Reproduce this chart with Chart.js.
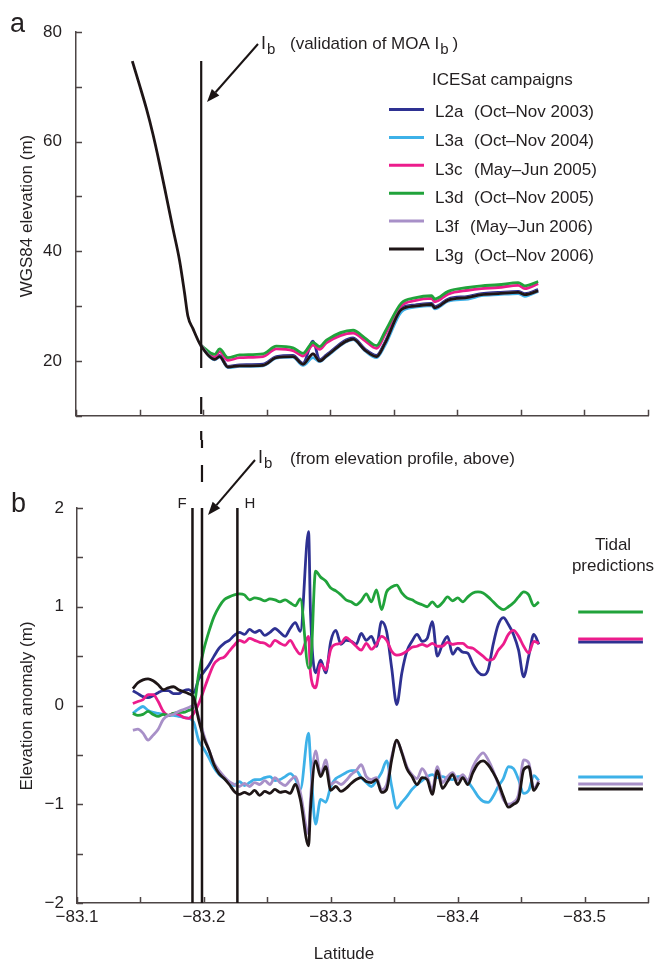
<!DOCTYPE html>
<html><head><meta charset="utf-8">
<script src="https://cdn.jsdelivr.net/npm/chart.js@4.4.0/dist/chart.umd.min.js"></script>
<style>
html,body{margin:0;padding:0;background:#fff;width:657px;height:962px;overflow:hidden;}
canvas{position:absolute;left:0;display:block;}
#ca{top:0;}
#cb{top:440px;}
</style></head><body>
<canvas id="ca" width="657" height="440"></canvas>
<canvas id="cb" width="657" height="522"></canvas>
<script>
// ---------- series metadata ----------
const seriesNames   = ['L2a','L3a','L3c','L3d','L3f','L3g'];
const seriesPeriods = ['(Oct\u2013Nov 2003)','(Oct\u2013Nov 2004)','(May\u2013Jun 2005)','(Oct\u2013Nov 2005)','(May\u2013Jun 2006)','(Oct\u2013Nov 2006)'];
const seriesColors  = ['#2e3192','#3db1e8','#ec1c8c','#21a33b','#a890c8','#1e1516'];
const seriesOrder   = [5,4,3,2,1,0];

// ---------- panel a: WGS84 elevation (m) ----------
const latTop = [-83.1443,-83.15,-83.1553,-83.1605,-83.1657,-83.171,-83.1762,-83.1815,-83.1854,-83.188,-83.192,-83.198,
  -83.2091,-83.213,-83.2195,-83.2287,-83.2471,-83.2576,-83.2707,-83.2786,-83.2865,-83.2917,-83.297,-83.318,-83.3272,
  -83.3364,-83.343,-83.3561,-83.3665,-83.3797,-83.3823,-83.3928,-83.4085,-83.419,-83.4321,-83.4479,-83.4531,-83.4636];
const N11 = [null,null,null,null,null,null,null,null,null,null,null];
const elevL2a = N11.concat([22.9,20.4,21.0,19.0,19.3,19.4,20.8,21.0,19.6,23.6,20.2,21.1,24.2,22.2,21.0,23.4,29.6,30.2,30.5,29.9,31.3,31.8,32.3,32.5,32.7,32.3,33.0]);
const elevL3a = N11.concat([22.9,20.2,20.7,18.8,19.0,19.1,20.5,20.7,19.2,20.6,19.9,20.8,23.9,21.9,20.6,22.8,29.0,29.8,30.1,29.5,30.9,31.3,31.9,32.1,32.3,31.8,32.7]);
const elevL3c = N11.concat([22.9,20.7,21.7,20.1,20.6,20.8,22.2,21.9,20.9,22.9,22.1,23.3,25.1,23.7,22.3,24.8,30.1,31.0,31.4,30.8,32.2,32.9,33.2,33.4,33.8,33.2,34.1]);
const elevL3d = N11.concat([22.9,21.2,22.2,20.6,21.1,21.3,22.7,22.4,21.4,23.4,22.6,23.8,25.6,24.2,22.8,25.3,30.6,31.5,31.9,31.3,32.7,33.4,33.7,33.9,34.3,33.7,34.5]);
const elevL3f = N11.concat([22.9,20.3,20.8,18.9,19.1,19.2,20.6,20.8,19.4,21.3,20.0,20.9,24.0,22.0,20.8,23.2,29.4,30.0,30.3,29.7,31.1,31.6,32.1,32.3,32.5,32.1,32.8]);
const elevL3g = [74.7,70.3,66.1,61.4,56.0,50.1,44.2,38.3,32.4,28.2,25.9,22.9,
  20.3,20.8,18.9,19.1,19.2,20.6,20.8,19.4,21.3,20.0,20.9,24.0,22.0,20.8,23.2,29.4,30.0,30.3,29.7,31.1,31.6,32.1,32.3,32.5,32.1,32.8];
const elevSeries = [elevL2a, elevL3a, elevL3c, elevL3d, elevL3f, elevL3g];
const ibLat = -83.1985;
const ibTopRange = [18.7, 74.7];

// ---------- panel b: elevation anomaly (m) ----------
const latBot = [-83.144,-83.148,-83.152,-83.156,-83.160,-83.164,-83.168,-83.172,-83.176,-83.180,
  -83.184,-83.188,-83.192,-83.196,-83.200,-83.204,-83.208,-83.212,-83.216,-83.220,
  -83.224,-83.228,-83.232,-83.236,-83.240,-83.244,-83.248,-83.252,-83.256,-83.260,
  -83.264,-83.268,-83.272,-83.276,-83.2825,-83.284,-83.288,-83.292,-83.296,-83.300,
  -83.304,-83.308,-83.312,-83.316,-83.320,-83.324,-83.328,-83.332,-83.336,-83.340,
  -83.344,-83.348,-83.352,-83.356,-83.360,-83.364,-83.368,-83.372,-83.376,-83.380,
  -83.384,-83.388,-83.392,-83.396,-83.400,-83.404,-83.408,-83.412,-83.416,-83.420,
  -83.424,-83.428,-83.432,-83.436,-83.440,-83.444,-83.448,-83.452,-83.456,-83.460,
  -83.464];
const anomL2a = [0.15,0.12,0.09,0.08,0.10,0.13,0.15,0.15,0.12,0.12,
  0.15,0.16,0.13,0.27,0.34,0.41,0.50,0.58,0.63,0.66,
  0.71,0.74,0.72,0.77,0.74,0.76,0.71,0.74,0.78,0.74,
  0.70,0.78,0.84,0.75,1.76,0.95,0.33,0.46,0.33,0.65,
  0.76,0.62,0.66,0.65,0.62,0.73,0.66,0.70,0.60,0.85,
  0.75,0.38,0.01,0.33,0.55,0.65,0.72,0.65,0.68,0.85,
  0.50,0.62,0.70,0.52,0.58,0.54,0.53,0.42,0.34,0.31,
  0.36,0.62,0.82,0.89,0.82,0.72,0.56,0.29,0.50,0.72,
  0.62];
const anomL3a = [-0.08,-0.04,-0.01,-0.05,-0.07,-0.08,-0.09,-0.10,-0.10,-0.11,
  -0.12,-0.13,-0.17,-0.36,-0.44,-0.53,-0.63,-0.70,-0.74,-0.78,
  -0.81,-0.77,-0.81,-0.78,-0.75,-0.75,-0.73,-0.72,-0.76,-0.75,
  -0.72,-0.69,-0.74,-0.85,-0.28,-0.55,-1.20,-0.95,-0.98,-0.82,
  -0.74,-0.71,-0.68,-0.66,-0.66,-0.73,-0.78,-0.82,-0.76,-0.68,
  -0.56,-0.82,-1.04,-0.98,-0.92,-0.85,-0.80,-0.76,-0.72,-0.70,
  -0.73,-0.72,-0.74,-0.75,-0.72,-0.72,-0.77,-0.84,-0.92,-0.97,
  -0.98,-0.92,-0.82,-0.74,-0.62,-0.64,-0.75,-0.89,-0.86,-0.71,
  -0.76];
const anomL3c = [0.02,0.04,0.06,0.11,0.11,0.04,-0.06,-0.10,-0.08,-0.09,
  -0.12,-0.13,-0.08,0.02,0.16,0.30,0.42,0.47,0.49,0.55,
  0.61,0.66,0.64,0.68,0.66,0.64,0.63,0.60,0.66,0.63,
  0.61,0.66,0.58,0.52,0.70,0.33,0.18,0.42,0.36,0.57,
  0.62,0.63,0.69,0.65,0.60,0.56,0.63,0.57,0.62,0.70,
  0.66,0.55,0.51,0.52,0.55,0.59,0.60,0.62,0.60,0.63,
  0.60,0.60,0.64,0.62,0.63,0.63,0.59,0.58,0.54,0.50,
  0.46,0.47,0.56,0.62,0.72,0.76,0.70,0.60,0.53,0.65,
  0.63];
const anomL3d = [-0.08,-0.10,-0.09,-0.06,-0.09,-0.11,-0.09,-0.10,-0.08,-0.07,
  -0.07,-0.05,-0.01,0.33,0.57,0.75,0.90,1.00,1.07,1.10,
  1.12,1.13,1.12,1.07,1.09,1.08,1.06,1.08,1.07,1.05,
  1.07,1.04,1.01,1.08,0.38,0.40,1.36,1.30,1.26,1.19,
  1.16,1.12,1.07,1.05,1.02,1.06,1.13,1.05,1.17,0.97,
  1.15,1.20,1.22,1.14,1.09,1.07,1.04,1.02,1.00,1.05,
  1.00,1.04,1.10,1.06,1.09,1.05,1.10,1.14,1.15,1.14,
  1.10,1.05,1.00,0.97,1.00,1.04,1.10,1.15,1.12,1.01,
  1.05];
const anomL3f = [-0.25,-0.24,-0.28,-0.35,-0.30,-0.24,-0.14,-0.10,-0.09,-0.06,
  -0.04,-0.02,0.00,-0.12,-0.30,-0.45,-0.58,-0.66,-0.72,-0.77,
  -0.80,-0.82,-0.79,-0.82,-0.78,-0.80,-0.76,-0.80,-0.73,-0.78,
  -0.81,-0.76,-0.72,-0.88,-1.30,-0.95,-0.46,-0.70,-0.55,-0.80,
  -0.77,-0.80,-0.76,-0.70,-0.66,-0.60,-0.72,-0.75,-0.73,-0.85,
  -0.80,-0.52,-0.36,-0.47,-0.62,-0.70,-0.74,-0.64,-0.72,-0.85,
  -0.62,-0.78,-0.72,-0.68,-0.75,-0.70,-0.76,-0.62,-0.53,-0.48,
  -0.55,-0.66,-0.80,-0.95,-1.00,-0.98,-0.90,-0.55,-0.58,-0.84,
  -0.76];
const anomL3g = [0.17,0.23,0.26,0.27,0.25,0.21,0.16,0.18,0.19,0.16,
  0.14,0.12,0.08,-0.15,-0.33,-0.45,-0.60,-0.69,-0.74,-0.80,
  -0.87,-0.90,-0.88,-0.90,-0.86,-0.91,-0.87,-0.89,-0.85,-0.88,
  -0.87,-0.89,-0.80,-0.95,-1.42,-1.05,-0.56,-0.72,-0.62,-0.86,
  -0.82,-0.87,-0.84,-0.79,-0.75,-0.73,-0.77,-0.78,-0.75,-0.88,
  -0.85,-0.55,-0.35,-0.48,-0.64,-0.72,-0.80,-0.73,-0.75,-0.90,
  -0.66,-0.84,-0.77,-0.70,-0.80,-0.73,-0.80,-0.68,-0.59,-0.56,
  -0.60,-0.68,-0.78,-0.92,-1.03,-1.00,-0.95,-0.65,-0.62,-0.86,
  -0.78];
const anomSeries = [anomL2a, anomL3a, anomL3c, anomL3d, anomL3f, anomL3g];

// tidal predictions (short reference lines at right)
const tidalLatRange = [-83.495, -83.546];
const tidalValues = [0.643, -0.724, 0.673, 0.947, -0.795, -0.845];

// grounding-zone markers in panel b
const markerLabels = ['F', 'Ib', 'H'];
const markerLats = [-83.191, -83.1985, -83.2264];
const markerRange = [-2, 2];

// ---------- style ----------
const FONT = '"Liberation Sans", Arial, Helvetica, sans-serif';
const TXT = '#231f20';
const AXIS = '#4d4545';
const MARK = '#1a1414';

function fmtLat(v) {
  const r = Math.round(v * 100);
  return (r % 10 === 0) ? '\u2212' + Math.abs(v).toFixed(1) : '';
}
function pts(xs, ys) { return xs.map((x, i) => ({x: x, y: ys[i]})); }

function inwardTicks(chart, len) {
  const ctx = chart.ctx, xs = chart.scales.x, ys = chart.scales.y, a = chart.chartArea;
  ctx.save();
  ctx.strokeStyle = AXIS; ctx.lineWidth = 1.5;
  ctx.beginPath();
  xs.ticks.forEach(t => { const p = Math.round(xs.getPixelForValue(t.value)) + 0.5; ctx.moveTo(p, a.bottom); ctx.lineTo(p, a.bottom - len); });
  ys.ticks.forEach(t => { const p = Math.round(ys.getPixelForValue(t.value)) + 0.5; ctx.moveTo(a.left, p); ctx.lineTo(a.left + len, p); });
  ctx.stroke();
  ctx.restore();
}
function txt(ctx, s, x, y, size, align) {
  ctx.font = size + 'px ' + FONT;
  ctx.fillStyle = TXT;
  ctx.textAlign = align || 'left';
  ctx.textBaseline = 'alphabetic';
  ctx.fillText(s, x, y);
  return ctx.measureText(s).width;
}
function vtxt(ctx, s, cx, cy, size) {
  ctx.save();
  ctx.translate(cx, cy); ctx.rotate(-Math.PI / 2);
  ctx.font = size + 'px ' + FONT; ctx.fillStyle = TXT;
  ctx.textAlign = 'center'; ctx.textBaseline = 'middle';
  ctx.fillText(s, 0, 0);
  ctx.restore();
}
function arrow(ctx, x1, y1, x2, y2) {
  ctx.save();
  ctx.strokeStyle = MARK; ctx.fillStyle = MARK; ctx.lineWidth = 2;
  const ang = Math.atan2(y2 - y1, x2 - x1), L = 13, W = 5;
  const bx = x2 - L * Math.cos(ang), by = y2 - L * Math.sin(ang);
  ctx.beginPath(); ctx.moveTo(x1, y1); ctx.lineTo(bx, by); ctx.stroke();
  ctx.beginPath();
  ctx.moveTo(x2, y2);
  ctx.lineTo(bx + W * Math.sin(ang), by - W * Math.cos(ang));
  ctx.lineTo(bx - W * Math.sin(ang), by + W * Math.cos(ang));
  ctx.closePath(); ctx.fill();
  ctx.restore();
}
function dashed(ctx, x, y1, y2) {
  ctx.save();
  ctx.strokeStyle = MARK; ctx.lineWidth = 2.2; ctx.setLineDash([17, 17]);
  ctx.beginPath(); ctx.moveTo(x, y1); ctx.lineTo(x, y2); ctx.stroke();
  ctx.restore();
}

// ---------- panel a ----------
const decorTop = {
  id: 'decorTop',
  afterDraw(chart) {
    const ctx = chart.ctx, xs = chart.scales.x;
    inwardTicks(chart, 6);
    const xi = xs.getPixelForValue(ibLat);
    dashed(ctx, xi, 397, 441);
    txt(ctx, 'a', 10, 32, 27);
    vtxt(ctx, 'WGS84 elevation (m)', 27, 216, 17);
    // annotation
    txt(ctx, 'I', 261, 49, 18);
    txt(ctx, 'b', 267, 54, 15);
    let w = txt(ctx, '(validation of MOA I', 290, 49, 17);
    let w2 = txt(ctx, 'b', 290 + w + 1, 54, 15);
    txt(ctx, ')', 290 + w + w2 + 5, 49, 17);
    arrow(ctx, 258, 44, 207, 102);
    // legend
    txt(ctx, 'ICESat campaigns', 432, 85, 17);
    for (let i = 0; i < seriesNames.length; i++) {
      const ly = 109.5 + i * 27.9, ty = 117 + i * 28.8;
      ctx.save(); ctx.strokeStyle = seriesColors[i]; ctx.lineWidth = 3;
      ctx.beginPath(); ctx.moveTo(389, ly); ctx.lineTo(424, ly); ctx.stroke(); ctx.restore();
      txt(ctx, seriesNames[i], 435, ty, 17);
      txt(ctx, seriesPeriods[i], seriesNames[i] === 'L3f' ? 470 : 474, ty, 17);
    }
  }
};

const topDatasets = elevSeries.map((s, i) => ({
  label: seriesNames[i], data: pts(latTop, s), showLine: true,
  borderColor: seriesColors[i], backgroundColor: seriesColors[i],
  borderWidth: 2.8, pointRadius: 0, order: seriesOrder[i], spanGaps: false,
  cubicInterpolationMode: 'monotone'
}));
topDatasets.push({
  label: 'Ib', data: [{x: ibLat, y: ibTopRange[1]}, {x: ibLat, y: ibTopRange[0]}], showLine: true,
  borderColor: MARK, borderWidth: 2.2, pointRadius: 0, order: -1
});

new Chart(document.getElementById('ca'), {
  type: 'scatter',
  data: {datasets: topDatasets},
  options: {
    responsive: false, animation: false, events: [],
    layout: {padding: {left: 0, right: 9, top: 32, bottom: 0}},
    plugins: {legend: {display: false}, tooltip: {enabled: false}},
    scales: {
      x: {type: 'linear', reverse: true, min: -83.55, max: -83.1,
        afterFit: s => { s.height = 14; },
        ticks: {display: false, stepSize: 0.05, autoSkip: false},
        grid: {display: false, drawTicks: false},
        border: {display: true, color: AXIS, width: 1.5}},
      y: {type: 'linear', min: 10, max: 80,
        afterFit: s => { s.width = 76; },
        ticks: {stepSize: 10, autoSkip: false, padding: 14, color: TXT, font: {family: FONT, size: 17},
          callback: v => (Math.round(v) % 20 === 0 && v >= 20) ? String(Math.round(v)) : ''},
        grid: {display: false, drawTicks: false},
        border: {display: true, color: AXIS, width: 1.5}}
    }
  },
  plugins: [decorTop]
});

// ---------- panel b ----------
const decorBot = {
  id: 'decorBot',
  afterDraw(chart) {
    const ctx = chart.ctx, xs = chart.scales.x;
    inwardTicks(chart, 6);
    const xi = xs.getPixelForValue(ibLat);
    dashed(ctx, xi, -9, 42);
    txt(ctx, 'b', 11, 72, 27);
    vtxt(ctx, 'Elevation anomaly (m)', 27, 266, 17);
    txt(ctx, 'Latitude', 344, 519, 17, 'center');
    // annotation
    txt(ctx, 'I', 258, 23, 18);
    txt(ctx, 'b', 264, 28, 15);
    txt(ctx, '(from elevation profile, above)', 290, 24, 17);
    arrow(ctx, 255, 20, 208, 75);
    // marker letters
    txt(ctx, markerLabels[0], xs.getPixelForValue(markerLats[0]) - 15, 68, 15);
    txt(ctx, markerLabels[2], xs.getPixelForValue(markerLats[2]) + 7, 68, 15);
    // tidal predictions title
    txt(ctx, 'Tidal', 613, 110, 17, 'center');
    txt(ctx, 'predictions', 613, 131, 17, 'center');
  }
};

const botDatasets = anomSeries.map((s, i) => ({
  label: seriesNames[i], data: pts(latBot, s), showLine: true,
  borderColor: seriesColors[i], backgroundColor: seriesColors[i],
  borderWidth: 2.8, pointRadius: 0, order: seriesOrder[i],
  cubicInterpolationMode: 'monotone'
}));
tidalValues.forEach((v, i) => botDatasets.push({
  label: seriesNames[i] + ' tide', data: [{x: tidalLatRange[0], y: v}, {x: tidalLatRange[1], y: v}],
  showLine: true, borderColor: seriesColors[i], borderWidth: 3, pointRadius: 0, order: seriesOrder[i]
}));
markerLats.forEach((m, i) => botDatasets.push({
  label: markerLabels[i], data: [{x: m, y: markerRange[1]}, {x: m, y: markerRange[0]}],
  showLine: true, borderColor: MARK, borderWidth: 2.5, pointRadius: 0, order: -1
}));

new Chart(document.getElementById('cb'), {
  type: 'scatter',
  data: {datasets: botDatasets},
  options: {
    responsive: false, animation: false, events: [],
    layout: {padding: {left: 0, right: 9, top: 68, bottom: 0}},
    plugins: {legend: {display: false}, tooltip: {enabled: false}},
    scales: {
      x: {type: 'linear', reverse: true, min: -83.55, max: -83.1,
        afterFit: s => { s.height = 59; },
        ticks: {stepSize: 0.05, autoSkip: false, maxRotation: 0, padding: 4, color: TXT,
          font: {family: FONT, size: 17}, callback: fmtLat},
        grid: {display: false, drawTicks: false},
        border: {display: true, color: AXIS, width: 1.5}},
      y: {type: 'linear', min: -2, max: 2,
        afterFit: s => { s.width = 77; },
        ticks: {stepSize: 0.5, autoSkip: false, padding: 13, color: TXT, font: {family: FONT, size: 17},
          callback: v => { const r = Math.round(v); return Math.abs(v - r) < 1e-6 ? (r < 0 ? '\u2212' + Math.abs(r) : String(r)) : ''; }},
        grid: {display: false, drawTicks: false},
        border: {display: true, color: AXIS, width: 1.5}}
    }
  },
  plugins: [decorBot]
});
</script>
</body></html>
